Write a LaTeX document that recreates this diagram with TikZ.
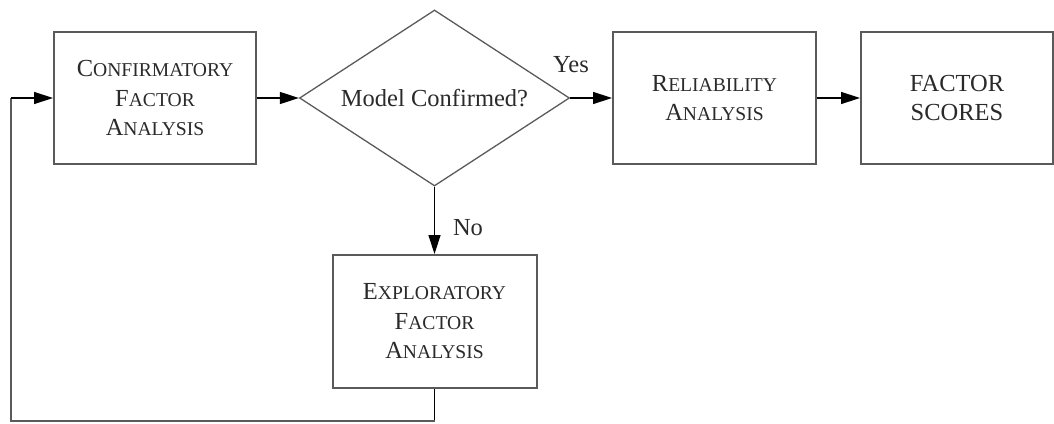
\documentclass[tikz,border=0pt]{standalone}
\usepackage{fontspec}
\setmainfont{Liberation Serif}
\usetikzlibrary{arrows.meta,shapes.geometric}
\definecolor{boxline}{HTML}{5A5A5A}
\definecolor{ink}{HTML}{2A2A2A}
% word in small capitals: first letter full size, the rest at 80%
\newcommand\capsword[2]{#1{\fontsize{19.6}{29.5}\selectfont #2}}
\begin{document}
\begin{tikzpicture}[x=1pt,y=-1pt,
  every node/.style={text=ink, font=\fontsize{24.5}{29.5}\selectfont},
  stepbox/.style={draw=boxline, line width=2pt, fill=white, inner sep=0pt, align=center},
  decision/.style={draw=boxline, line width=1.3pt, shape=diamond, aspect=1.534, inner sep=0pt,
                   minimum width=270pt, minimum height=176pt, align=center},
  flow/.style={draw=black, line width=1.4pt, -{Triangle[length=19pt,width=12pt]}},
  loopline/.style={draw=boxline, line width=2pt}]
\useasboundingbox (0,0) rectangle (1054,423);

\node[stepbox, minimum width=202pt, minimum height=132pt] (cfa) at (155,98)
  {\capsword{C}{ONFIRMATORY}\\\capsword{F}{ACTOR}\\\capsword{A}{NALYSIS}};
\node[decision] (dec) at (434.5,98) {Model Confirmed?};
\node[stepbox, minimum width=203pt, minimum height=132pt] (rel) at (714.5,98)
  {\capsword{R}{ELIABILITY}\\\capsword{A}{NALYSIS}};
\node[stepbox, minimum width=192pt, minimum height=132pt] (fs) at (957,98)
  {FACTOR\\SCORES};
\node[stepbox, minimum width=204pt, minimum height=133pt] (efa) at (434.5,321.5)
  {\capsword{E}{XPLORATORY}\\\capsword{F}{ACTOR}\\\capsword{A}{NALYSIS}};

\node (yes) at (571,65) {Yes};
\node (no) at (468,228) {No};

\coordinate (lb) at (434.5,421);
\coordinate (ll) at (11,421);
\coordinate (lt) at (11,98);

\draw[flow] (cfa.east) -- (dec.west);
\draw[flow] (dec.east) -- (rel.west);
\draw[flow] (rel.east) -- (fs.west);
\draw[flow] (dec.south) -- (efa.north);
\draw[line width=1.4pt] (efa.south) -- (lb);
\draw[loopline] (lb) -- (ll) -- (lt);
\draw[flow] (lt) -- (cfa.west);
\end{tikzpicture}
\end{document}
